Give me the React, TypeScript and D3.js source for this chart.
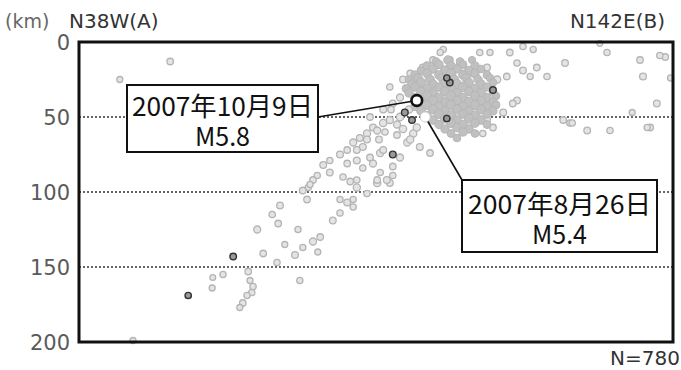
import React from 'react';
import * as d3 from 'd3';

const W = 681;
const H = 370;

const depthTicks = [0, 50, 100, 150, 200];
const gridDepths = [50, 100, 150];
const leftLabel = 'N38W(A)';
const rightLabel = 'N142E(B)';
const unitLabel = '(km)';
const countLabel = 'N=780';

// [distance along section (km), depth (km), magnitude]
const scatterEvents: [number, number, number][] = [
  [6.8, 25, 1.2], [15.2, 13, 1.5], [9, 199, 1.2], [86.8, 1, 1],
  [33.5, 109, 1.6], [32.2, 115, 1.4], [33.2, 121, 1.5], [29.7, 125, 1.8], [36.5, 125, 1.3],
  [30.7, 141, 1.5], [34.3, 135, 1.2], [33, 147, 1.4], [36, 142, 1.6], [37.3, 137, 1.3],
  [39, 133, 1.8], [40.2, 130, 1.5], [39.8, 140, 1.2], [42.3, 119, 1.6], [43.5, 114, 1.4],
  [44.7, 107, 1.7], [45.7, 110, 1.3], [46.3, 97, 1.9], [38, 105, 1.5], [38.2, 97, 1.4],
  [49.7, 94, 2], [51.8, 94, 1.6], [48, 101, 1.4], [36.8, 159, 1.3], [28.5, 159, 1.2],
  [28.8, 167, 1.4], [28, 169, 1.3], [27.3, 174, 1.5], [26.8, 177, 1.2], [29, 163, 1.4],
  [24, 155, 1.3], [22.3, 157, 1.1], [22.2, 164, 1.2], [28.2, 153, 1.5],
  [40.7, 82, 1.6], [41.8, 79, 1.4], [43.5, 75, 1.7], [44.7, 72, 1.5], [45.7, 67, 1.8],
  [46.8, 64, 1.6], [48, 61, 1.9], [49, 57, 1.7], [50.7, 54, 2], [51.8, 52, 1.8],
  [53.5, 50, 2.1], [44.7, 81, 1.5], [46.3, 79, 1.7], [47.3, 84, 1.4], [49, 81, 1.8],
  [49.7, 92, 1.5], [51.3, 92, 1.6], [52.3, 89, 1.4], [50.2, 74, 1.9], [54.7, 67, 1.8],
  [55.7, 61, 2], [39.7, 89, 1.4], [39, 92, 1.5], [38.5, 95, 1.3], [37.3, 99, 1.5],
  [41.8, 87, 1.6], [44, 90, 1.4], [45.2, 93, 1.5], [43.5, 105, 1.3], [47.3, 70, 1.7],
  [48.5, 77, 1.5], [46.3, 72, 1.6],
  [48, 65, 1.7], [49.7, 59, 1.8], [46.3, 92, 1.4], [45.7, 105, 1.3], [50.7, 72, 1.6],
  [53.5, 77, 1.8], [52.3, 83, 1.5], [50.2, 87, 1.4], [55.2, 65, 1.9], [56.8, 70, 1.7],
  [58.5, 74, 1.5], [56.3, 57, 2], [48.5, 50, 1.5], [50.7, 45, 1.7], [52.3, 41, 1.6],
  [53.5, 37, 1.8], [51.8, 30, 1.4], [54, 25, 1.6], [55.2, 21, 1.5], [57.3, 17, 1.7],
  [59, 12, 1.5], [60.7, 5, 1.4], [61.8, 12, 1.6], [64, 17, 1.7], [65.7, 21, 1.5],
  [68, 17, 1.6], [69.7, 25, 1.8], [71.3, 23, 1.5], [73, 14, 1.4], [74, 19, 1.6],
  [75.2, 23, 1.3], [71.8, 7, 1.5], [74, 3, 1.4], [75.7, 5, 1.3], [76.3, 17, 1.5],
  [78, 23, 1.4], [73, 39, 1.6], [70.7, 47, 1.7], [69, 57, 1.5], [67.3, 61, 1.4],
  [68, 52, 1.8], [80.7, 52, 1.5], [81.8, 54, 1.3], [84.7, 59, 1.6], [88.5, 59, 1.4],
  [93.5, 12, 1.5], [94, 23, 1.7], [88, 7, 1.4], [95.2, 57, 1.5],
  [81, 14, 1.6], [97.7, 10, 1.5], [98.6, 24, 1.3], [96.3, 41, 1.6], [92.2, 47, 1.2],
  [82.2, 54, 1.4], [94.7, 57, 1.3],
  [60.2, 7, 1.3], [63.5, 14, 1.5], [66.8, 7, 1.4], [68.5, 7, 1.3], [72.3, 41, 1.5], [96.8, 9, 1.4],
  [52, 45, 1.5], [53, 55, 1.8], [51, 60, 1.4], [54, 58, 2], [50, 65, 1.6], [53, 62, 1.5], [55, 45, 2],
];

// dense aftershock cluster
const clusterEvents: [number, number, number][] = [
  [59.5, 13, 1.5], [61.5, 12, 2], [63.5, 13, 1.5], [65.5, 12, 1.2],
  [58, 16, 2], [60, 15, 1.8], [62, 16, 2.2], [64, 15, 1.6], [66, 16, 1.8],
  [57, 19, 1.6], [59, 18, 2], [61, 19, 2.4], [63, 18, 1.8], [65, 19, 2], [67, 18, 1.5],
  [56, 22, 1.8], [58, 21, 2.1], [60, 22, 2], [62, 21, 2.5], [64, 22, 2], [66, 21, 1.8], [68, 22, 1.6],
  [55, 25, 1.5], [56.5, 24, 2], [58.5, 25, 2.2], [60.5, 24, 2], [62.5, 25, 2.4], [64.5, 24, 2], [66.5, 25, 1.9], [68.5, 24, 1.5],
  [55.5, 28, 2], [57, 27, 2.3], [59, 28, 2], [61, 27, 2.2], [63, 28, 2.5], [65, 27, 2], [67, 28, 1.8], [69, 27, 1.4],
  [54.5, 31, 1.6], [56, 30, 2], [58, 31, 2.4], [60, 30, 2], [62, 31, 2.2], [64, 30, 2.6], [66, 31, 2], [68, 30, 1.8],
  [55, 34, 1.8], [57, 33, 2.2], [59, 34, 2], [61, 33, 2.5], [63, 34, 2.2], [65, 33, 2], [67, 34, 2.3], [69, 33, 1.6],
  [56, 37, 2], [58, 36, 2.3], [60, 37, 2.1], [62, 36, 2.6], [64, 37, 2], [66, 36, 2.2], [68, 37, 1.9], [69.5, 36, 1.5],
  [57, 40, 2], [59, 39, 2.4], [61, 40, 2], [63, 39, 2.3], [65, 40, 2.5], [67, 39, 2], [69, 40, 1.8],
  [56, 43, 1.8], [58, 42, 2.2], [60, 43, 2], [62, 42, 2.6], [64, 43, 2.1], [66, 42, 2.3], [68, 43, 2], [69.5, 42, 1.6],
  [57, 46, 2], [59, 45, 2.3], [61, 46, 2.1], [63, 45, 2.4], [65, 46, 2], [67, 45, 2.2], [69, 46, 1.7],
  [58, 49, 1.8], [60, 48, 2.2], [62, 49, 2.4], [64, 48, 2], [66, 49, 2.3], [68, 48, 1.9],
  [59, 52, 2], [61, 51, 2.3], [63, 52, 2.1], [65, 51, 2.4], [67, 52, 2],
  [60, 55, 1.9], [62, 54, 2.2], [64, 55, 2], [66, 54, 2.1], [68, 55, 1.6],
  [61, 58, 1.8], [63, 57, 2.1], [65, 58, 1.9],
  [62, 61, 1.6], [64, 60, 1.8], [66, 61, 1.5],
  [63, 64, 1.5],
];

const darkEvents: [number, number, number][] = [
  [61.8, 27, 1.5], [61.3, 24, 1.3], [69, 32, 1.5], [54.3, 47, 1.6], [55.5, 52, 1.5],
  [61.3, 51, 1.4], [52.3, 75, 1.6], [25.7, 143, 1.5], [18.2, 169, 1.4],
];

const mainShock = { x: 56.3, d: 39, m: 5.8, date: '2007年10月9日', mag: 'M5.8' };
const aftershock = { x: 57.7, d: 50, m: 5.4, date: '2007年8月26日', mag: 'M5.4' };

const jp = '"Noto Sans CJK JP", sans-serif';
const latin = '"DejaVu Sans", sans-serif';

export default function App() {
  const x = d3.scaleLinear().domain([0, 99]).range([79, 673]);
  const y = d3.scaleLinear().domain([0, 200]).range([42, 342]);
  const r = d3.scaleLinear().domain([0, 6]).range([2, 7]);

  const box1 = { x: 127, y: 85, w: 191, h: 67 };
  const box2 = { x: 462, y: 180, w: 195, h: 72 };

  return (
    <svg width={W} height={H} style={{ position: 'absolute', left: 0, top: 0, background: '#fff' }}>
      <rect width={W} height={H} fill="#fff" />
      {/* header labels */}
      <text x={5} y={28} fontFamily={latin} fontSize={19} fill="#666">{unitLabel}</text>
      <text x={69} y={28} fontFamily={latin} fontSize={20} fill="#333">{leftLabel}</text>
      <text x={665} y={28} fontFamily={latin} fontSize={20} fill="#333" textAnchor="end">{rightLabel}</text>

      {/* grid */}
      {gridDepths.map((g) => (
        <line key={g} x1={x(0)} x2={x(99)} y1={y(g)} y2={y(g)} stroke="#333" strokeWidth={1.6} strokeDasharray="2 2" />
      ))}

      {/* y axis labels */}
      {depthTicks.map((t) => (
        <text key={t} x={70} y={y(t) + 1} fontFamily={latin} fontSize={21} fill="#5a5a5a" textAnchor="end" dominantBaseline="central">{t}</text>
      ))}

      {/* events */}
      <g>
        {scatterEvents.map(([ex, ed, em], i) => (
          <circle key={'s' + i} cx={x(ex)} cy={y(ed)} r={r(em)} fill="#e4e4e4" stroke="#b4b4b4" strokeWidth={1.3} />
        ))}
        {clusterEvents.map(([ex, ed, em], i) => (
          <circle key={'c' + i} cx={x(ex)} cy={y(ed)} r={r(em) + 0.6} fill="#c0c0c0" stroke="#b6b6b6" strokeWidth={1} />
        ))}
        {darkEvents.map(([ex, ed, em], i) => (
          <circle key={'d' + i} cx={x(ex)} cy={y(ed)} r={r(em)} fill="#999" stroke="#333" strokeWidth={1.4} />
        ))}
      </g>

      {/* leader lines */}
      <line x1={box1.x + box1.w} y1={box1.y + 32} x2={x(mainShock.x)} y2={y(mainShock.d)} stroke="#111" strokeWidth={1.6} />
      <line x1={x(aftershock.x)} y1={y(aftershock.d)} x2={box2.x} y2={box2.y} stroke="#111" strokeWidth={1.6} />

      <circle cx={x(aftershock.x)} cy={y(aftershock.d)} r={r(aftershock.m) - 1.5} fill="#fff" stroke="#ccc" strokeWidth={1} />
      <circle cx={x(mainShock.x)} cy={y(mainShock.d)} r={r(mainShock.m) - 1.5} fill="#fff" stroke="#111" strokeWidth={2.6} />

      {/* frame */}
      <rect x={x(0)} y={y(0)} width={x(99) - x(0)} height={y(200) - y(0)} fill="none" stroke="#111" strokeWidth={3} />

      {/* annotation boxes */}
      <g fontFamily={jp} fill="#111">
        <rect x={box1.x} y={box1.y} width={box1.w} height={box1.h} fill="#fff" stroke="#111" strokeWidth={2} />
        <text fontSize={26} textAnchor="middle">
          <tspan x={box1.x + box1.w / 2} y={box1.y + 31} textLength={181} lengthAdjust="spacingAndGlyphs">{mainShock.date}</tspan>
          <tspan x={box1.x + box1.w / 2} y={box1.y + 61} textLength={55} lengthAdjust="spacingAndGlyphs">{mainShock.mag}</tspan>
        </text>

        <rect x={box2.x} y={box2.y} width={box2.w} height={box2.h} fill="#fff" stroke="#111" strokeWidth={2} />
        <text fontSize={26} textAnchor="middle">
          <tspan x={box2.x + box2.w / 2} y={box2.y + 34} textLength={183} lengthAdjust="spacingAndGlyphs">{aftershock.date}</tspan>
          <tspan x={box2.x + box2.w / 2} y={box2.y + 64} textLength={55} lengthAdjust="spacingAndGlyphs">{aftershock.mag}</tspan>
        </text>
      </g>

      <text x={680} y={365} fontFamily={latin} fontSize={20} fill="#333" textAnchor="end">{countLabel}</text>
    </svg>
  );
}
